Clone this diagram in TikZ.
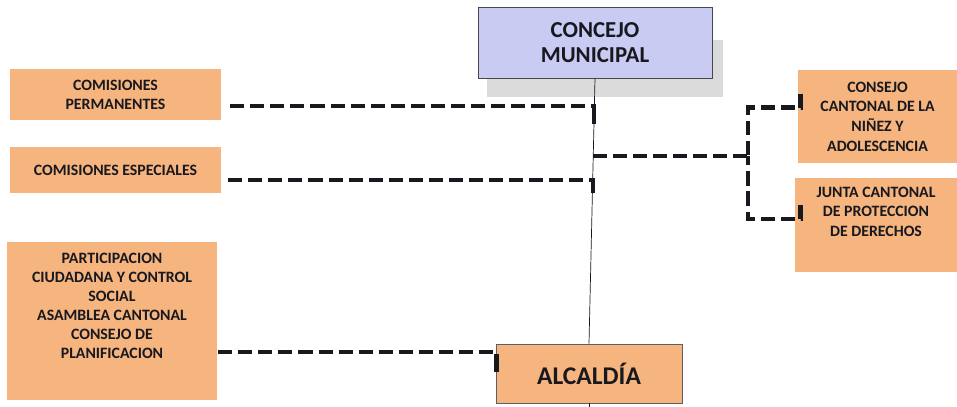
\documentclass[tikz,border=0pt]{standalone}
\usepackage{fontspec}
\setmainfont{Carlito}
\usepackage{xcolor}
\usetikzlibrary{positioning,calc}

\definecolor{naranja}{HTML}{F6B47E}
\definecolor{lila}{HTML}{C9CBF3}
\definecolor{tinta}{HTML}{18181F}

\tikzset{
    caja/.style={rectangle, fill=naranja, align=center, inner sep=2pt,
        font=\bfseries\fontsize{9}{10.8}\selectfont, text=tinta},
    conector/.style={draw=tinta, line width=2.8pt, dash pattern=on 8pt off 3.4pt},
    remate/.style={draw=tinta, line width=2.8pt},
}

\begin{document}
\begin{tikzpicture}[x=0.02cm, y=-0.02cm]
    \useasboundingbox (0,0) rectangle (957,406);

    % organo principal
    \fill [gray!28] (487,40) rectangle (723,97);
    \node [rectangle, draw=tinta!80, fill=lila, minimum width=234*0.02cm, minimum height=71*0.02cm,
        align=center, font=\bfseries\fontsize{13}{14.5}\selectfont, text=tinta] (CM) at (595,42.5) {CONCEJO\\MUNICIPAL};
    \node [caja, draw=tinta!70, thin, minimum width=186*0.02cm, minimum height=59*0.02cm,
        font=\bfseries\fontsize{14.5}{17}\selectfont] (ALC) at (589,373.5) {ALCALD\'IA};
    \draw [tinta, thin] (CM.south) -- (ALC.north);
    \draw [tinta, thin] (ALC.south) -- ++(0,4);

    % cajas de la izquierda
    \node [caja, minimum width=211*0.02cm, minimum height=51*0.02cm] (CP) at (115.5,94.5) {COMISIONES\\PERMANENTES};
    \node [caja, minimum width=211*0.02cm, minimum height=46*0.02cm] (CE) at (115.5,170) {COMISIONES ESPECIALES};
    \node [caja, minimum width=210*0.02cm, minimum height=158*0.02cm] (PC) at (112,321)
        {PARTICIPACION\\CIUDADANA Y CONTROL\\SOCIAL\\ASAMBLEA CANTONAL\\CONSEJO DE\\PLANIFICACION\\[6pt]\mbox{}};

    % cajas de la derecha
    \node [caja, minimum width=159*0.02cm, minimum height=93*0.02cm,
        font=\bfseries\fontsize{9}{11.2}\selectfont] (CC) at (877.5,116.5)
        {CONSEJO\\CANTONAL DE LA\\NI\~NEZ Y\\ADOLESCENCIA};
    \node [caja, minimum width=162*0.02cm, minimum height=94*0.02cm,
        font=\bfseries\fontsize{9}{11.2}\selectfont] (JC) at (876,225)
        {JUNTA CANTONAL\\DE PROTECCION\\DE DERECHOS\\[4pt]\mbox{}};

    % puntos sobre la linea central
    \coordinate (t1) at (594,123);
    \coordinate (t2) at (593,193);
    \coordinate (t3) at (593,156);
    \coordinate (br) at (748,156);

    \draw [conector] ([shift={(9,11.5)}]CP.east) -| (t1);
    \draw [remate] (t1) -- ++(0,-16);
    \draw [conector] ([shift={(7,10)}]CE.east) -| (t2);
    \draw [remate] (t2) -- ++(0,-11);
    \draw [conector] (t3) -- (br);
    \draw [conector] ([shift={(3,-23)}]CC.west) -- ++(0,14) -| (br);
    \draw [remate] ([shift={(3,-23)}]CC.west) -- ++(0,14);
    \draw [conector] ([shift={(6,-20)}]JC.west) -- ++(0,14) -| (br);
    \draw [remate] ([shift={(6,-20)}]JC.west) -- ++(0,14);
    \draw [conector] ([shift={(1,31)}]PC.east) -| ([shift={(1,-14)}]ALC.west);
    \draw [remate] ([shift={(1,-2)}]ALC.west) -- ++(0,-15);
\end{tikzpicture}
\end{document}
